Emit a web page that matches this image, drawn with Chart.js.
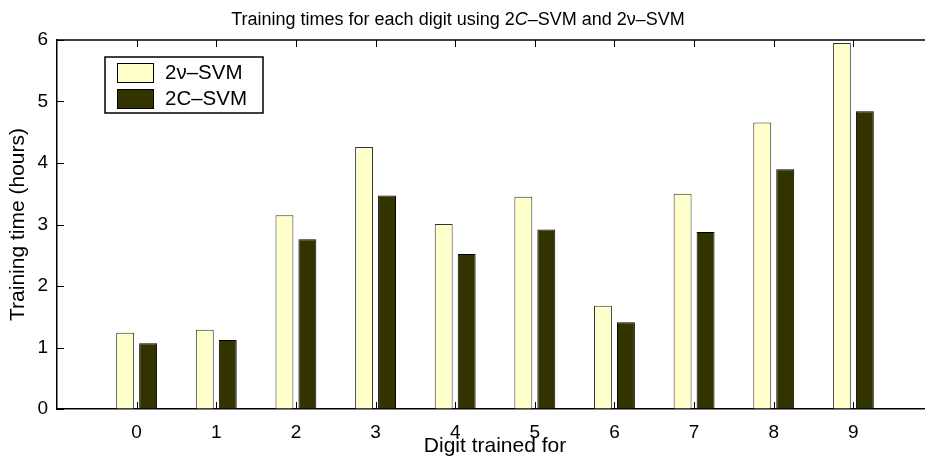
<!DOCTYPE html>
<html lang="en">
<head>
<meta charset="UTF-8">
<title>Training times for each digit</title>
<script src="https://cdn.jsdelivr.net/npm/chart.js"></script>
<style>
  body { margin: 0; overflow: hidden; background: #fff; font-family: "Liberation Sans", Arial, sans-serif; }
  .wrap { position: relative; width: 925px; height: 457px; overflow: hidden; }
  .title { position: absolute; left: 0; top: 8px; width: 916px; text-align: center; font-size: 18px; line-height: 22px; color: #000; }
  canvas { position: absolute; left: 0; top: 0; }
</style>
</head>
<body>
<div class="wrap">
  <canvas id="trainChart" width="945" height="457"></canvas>
  <div class="title">Training times for each digit using 2<i>C</i>–SVM and 2ν–SVM</div>
</div>
<script>
// digits on the x axis and training hours
const digits = [0, 1, 2, 3, 4, 5, 6, 7, 8, 9];
const nuSvmHours = [1.24, 1.29, 3.15, 4.26, 3.01, 3.45, 1.68, 3.50, 4.66, 5.95];
const cSvmHours = [1.07, 1.12, 2.76, 3.47, 2.52, 2.92, 1.41, 2.88, 3.90, 4.84];
const yTicks = [0, 1, 2, 3, 4, 5, 6];

Chart.defaults.font.family = '"Liberation Sans", Arial, sans-serif';
Chart.defaults.color = '#000';

// matlab style box: inward ticks on all sides, closed frame
// (the right edge of the axes falls just outside the picture, like the original)
const frameTicks = {
  id: 'frameTicks',
  beforeDatasetsDraw(chart) {
    const { ctx, chartArea: a, scales: { x, y } } = chart;
    ctx.save();
    ctx.strokeStyle = '#000';
    ctx.lineWidth = 1;
    ctx.beginPath();
    digits.forEach(d => {
      const px = Math.round(x.getPixelForValue(d)) + 0.5;
      ctx.moveTo(px, a.top); ctx.lineTo(px, a.top + 7);
      ctx.moveTo(px, a.bottom); ctx.lineTo(px, a.bottom - 7);
    });
    yTicks.forEach(v => {
      const py = Math.round(y.getPixelForValue(v)) + 0.5;
      ctx.moveTo(a.left, py); ctx.lineTo(a.left + 7, py);
      ctx.moveTo(a.right, py); ctx.lineTo(a.right - 7, py);
    });
    ctx.stroke();
    ctx.lineWidth = 1.5;
    ctx.beginPath();
    ctx.moveTo(a.left, a.top); ctx.lineTo(a.right, a.top); ctx.lineTo(a.right, a.bottom);
    ctx.stroke();
    ctx.restore();
  }
};

// legend box in the upper left of the plot
const boxLegend = {
  id: 'boxLegend',
  afterDraw(chart) {
    const { ctx } = chart;
    const bx = 105, by = 57, bw = 158, bh = 56;
    ctx.save();
    ctx.fillStyle = '#fff';
    ctx.fillRect(bx, by, bw, bh);
    ctx.strokeStyle = '#000';
    ctx.lineWidth = 1.5;
    ctx.strokeRect(bx, by, bw, bh);
    ctx.font = '20.5px "Liberation Sans", Arial, sans-serif';
    ctx.textBaseline = 'middle';
    chart.data.datasets.forEach((ds, i) => {
      const ry = by + 6 + i * 26;
      ctx.fillStyle = ds.backgroundColor;
      ctx.fillRect(bx + 12, ry, 36, 19);
      ctx.lineWidth = 1;
      ctx.strokeStyle = '#000';
      ctx.strokeRect(bx + 12.5, ry + 0.5, 36, 19);
      ctx.fillStyle = '#000';
      ctx.fillText(ds.label, bx + 60, ry + 10);
    });
    ctx.restore();
  }
};

const ctx = document.getElementById('trainChart').getContext('2d');
new Chart(ctx, {
  type: 'bar',
  data: {
    datasets: [
      {
        label: '2ν–SVM',
        data: digits.map((d, i) => ({ x: d, y: nuSvmHours[i] })),
        backgroundColor: '#ffffcc',
        borderColor: '#333333',
        borderWidth: 1,
        categoryPercentage: 0.577,
        barPercentage: 0.78
      },
      {
        label: '2C–SVM',
        data: digits.map((d, i) => ({ x: d, y: cSvmHours[i] })),
        backgroundColor: '#333300',
        borderColor: '#000000',
        borderWidth: 1,
        categoryPercentage: 0.577,
        barPercentage: 0.78
      }
    ]
  },
  options: {
    responsive: false,
    animation: false,
    layout: { padding: { top: 40, right: 2 } },
    plugins: { legend: { display: false }, tooltip: { enabled: false } },
    scales: {
      x: {
        type: 'linear',
        offset: false,
        min: -1,
        max: 10,
        grid: { display: true, offset: false, drawOnChartArea: false, drawTicks: false },
        border: { color: '#000', width: 1.5 },
        ticks: {
          stepSize: 1,
          autoSkip: false,
          padding: 12,
          font: { size: 19 },
          callback: v => digits.includes(v) ? String(v) : ''
        },
        title: { display: true, text: 'Digit trained for', font: { size: 21, lineHeight: 1 }, padding: 0 },
        afterFit: s => { s.height = 48; }
      },
      y: {
        min: 0,
        max: 6,
        grid: { display: true, drawOnChartArea: false, drawTicks: false },
        border: { color: '#000', width: 1.5 },
        ticks: { stepSize: 1, padding: 9, font: { size: 19 } },
        title: { display: true, text: 'Training time (hours)', font: { size: 21, lineHeight: 1 }, padding: { top: 8, bottom: 0 } },
        afterFit: s => { s.width = 57; }
      }
    }
  },
  plugins: [frameTicks, boxLegend]
});
</script>
</body>
</html>
